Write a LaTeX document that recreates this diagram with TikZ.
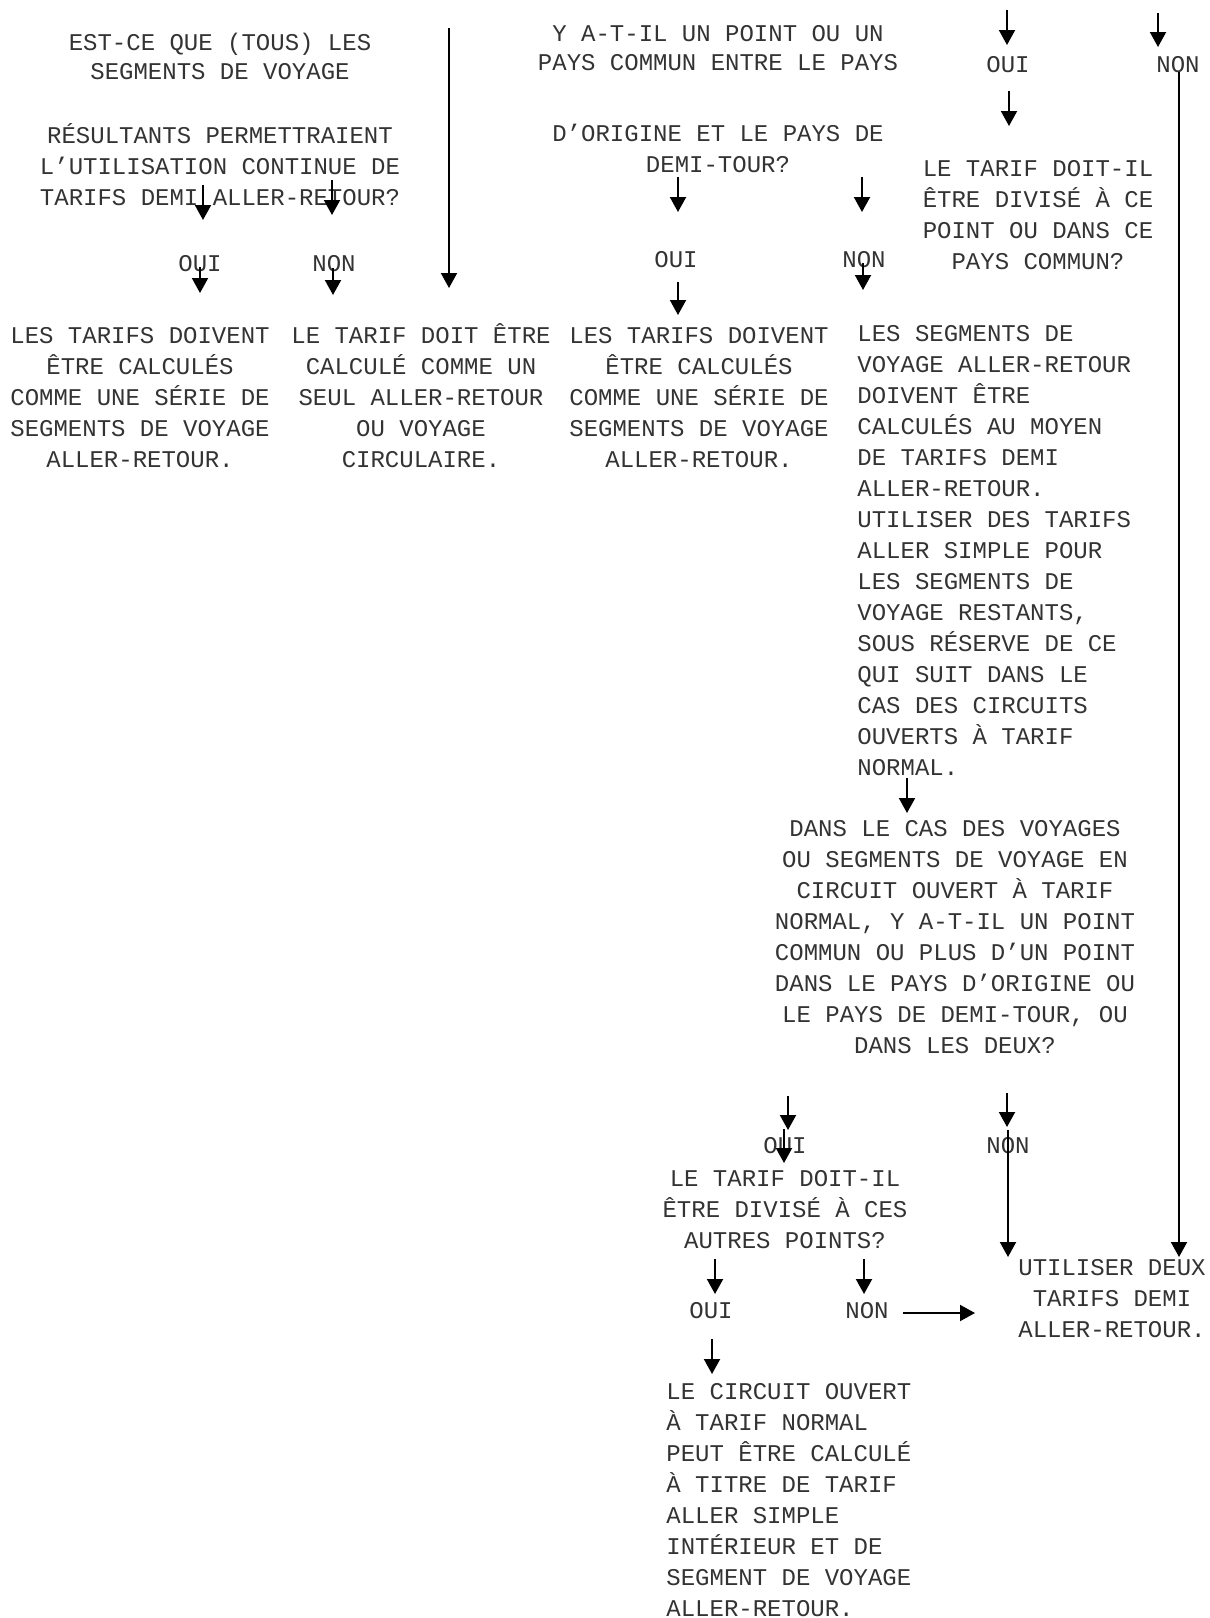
\documentclass[tikz,border=0pt]{standalone}
\usepackage{fontspec}
\setmainfont{Liberation Mono}
\usetikzlibrary{arrows.meta}
\tikzset{
  >={Triangle[length=7.5pt,width=8pt]},
  every node/.style={inner sep=0pt, text=black!80,
    font=\fontsize{12}{15.5}\selectfont},
  question/.style={align=center, anchor=base},
  consigne/.style={align=left, anchor=base west},
  choix/.style={anchor=base},
  fleche/.style={->, line width=1pt},
}

\begin{document}
\begin{tikzpicture}[x=0.5pt, y=-0.5pt]
  \path[use as bounding box] (0,0) rectangle (1210,1618);

  % premiere colonne (les noeuds sont poses sur leur derniere ligne)
  \node[question] (q1) at (220,205) {EST-CE QUE (TOUS) LES\\[-0.85pt]SEGMENTS DE VOYAGE\\[16.35pt]RÉSULTANTS PERMETTRAIENT\\L’UTILISATION CONTINUE DE\\TARIFS DEMI ALLER-RETOUR?};
  \node[choix] (q1oui) at (200,271) {OUI};
  \node[choix] (q1non) at (334,271) {NON};
  \node[question] (r1oui) at (140,467) {LES TARIFS DOIVENT\\ÊTRE CALCULÉS\\COMME UNE SÉRIE DE\\SEGMENTS DE VOYAGE\\ALLER-RETOUR.};
  \node[question] (r1non) at (421,467) {LE TARIF DOIT ÊTRE\\CALCULÉ COMME UN\\SEUL ALLER-RETOUR\\OU VOYAGE\\CIRCULAIRE.};

  % deuxieme colonne
  \node[question] (q2) at (718,172) {Y A-T-IL UN POINT OU UN\\[-1pt]PAYS COMMUN ENTRE LE PAYS\\[19.85pt]D’ORIGINE ET LE PAYS DE\\DEMI-TOUR?};
  \node[choix] (q2oui) at (676,267) {OUI};
  \node[choix] (q2non) at (864,267) {NON};
  \node[question] (r2oui) at (699,467) {LES TARIFS DOIVENT\\ÊTRE CALCULÉS\\COMME UNE SÉRIE DE\\SEGMENTS DE VOYAGE\\ALLER-RETOUR.};
  \node[consigne] (r2non) at (857,775) {LES SEGMENTS DE\\VOYAGE ALLER-RETOUR\\DOIVENT ÊTRE\\CALCULÉS AU MOYEN\\DE TARIFS DEMI\\ALLER-RETOUR.\\UTILISER DES TARIFS\\ALLER SIMPLE POUR\\LES SEGMENTS DE\\VOYAGE RESTANTS,\\SOUS RÉSERVE DE CE\\QUI SUIT DANS LE\\CAS DES CIRCUITS\\OUVERTS À TARIF\\NORMAL.};

  % troisieme colonne
  \node[choix] (q3oui) at (1008,72) {OUI};
  \node[choix] (q3non) at (1178,72) {NON};
  \node[question] (q3) at (1038,269) {LE TARIF DOIT-IL\\ÊTRE DIVISÉ À CE\\POINT OU DANS CE\\PAYS COMMUN?};

  % circuits ouverts
  \node[question] (q4) at (955,1053) {DANS LE CAS DES VOYAGES\\OU SEGMENTS DE VOYAGE EN\\CIRCUIT OUVERT À TARIF\\NORMAL, Y A-T-IL UN POINT\\COMMUN OU PLUS D’UN POINT\\DANS LE PAYS D’ORIGINE OU\\LE PAYS DE DEMI-TOUR, OU\\DANS LES DEUX?};
  \node[choix] (q4oui) at (785,1153) {OUI};
  \node[choix] (q4non) at (1008,1153) {NON};
  \node[question] (q5) at (785,1248) {LE TARIF DOIT-IL\\ÊTRE DIVISÉ À CES\\AUTRES POINTS?};
  \node[choix] (q5oui) at (711,1318) {OUI};
  \node[choix] (q5non) at (867,1318) {NON};
  \node[consigne] (r5) at (666,1616) {LE CIRCUIT OUVERT\\À TARIF NORMAL\\PEUT ÊTRE CALCULÉ\\À TITRE DE TARIF\\ALLER SIMPLE\\INTÉRIEUR ET DE\\SEGMENT DE VOYAGE\\ALLER-RETOUR.};
  \node[question] (fin) at (1112,1337) {UTILISER DEUX\\TARIFS DEMI\\ALLER-RETOUR.};

  % fleches
  \foreach \nom/\x/\ya/\yb in {q1-oui/203/185/220, q1-non/332/180/215,
      oui-r1/200/267/293, non-r1/333/268/295, haut-r1/449/28/288,
      q2-oui/678/177/212, q2-non/862/177/212,
      oui-r2/678/282/315, non-r2/863/263/290,
      haut-oui/1007/10/45, haut-non/1158/13/47, oui-q3/1009/91/126,
      r2-q4/907/778/813, q4-oui/788/1096/1130, q4-non/1007/1093/1127,
      oui-q5/784/1129/1163, q5-oui/715/1259/1294, q5-non/864/1259/1294,
      oui-r5/712/1339/1374, non3-fin/1179/72/1257, non4-fin/1008/1130/1257}
  {
    \coordinate (\nom-d) at (\x,\ya);
    \coordinate (\nom-a) at (\x,\yb);
    \draw[fleche] (\nom-d) -- (\nom-a);
  }
  \coordinate (non5-d) at (903,1313);
  \coordinate (non5-a) at (975,1313);
  \draw[fleche] (non5-d) -- (non5-a);
\end{tikzpicture}
\end{document}
